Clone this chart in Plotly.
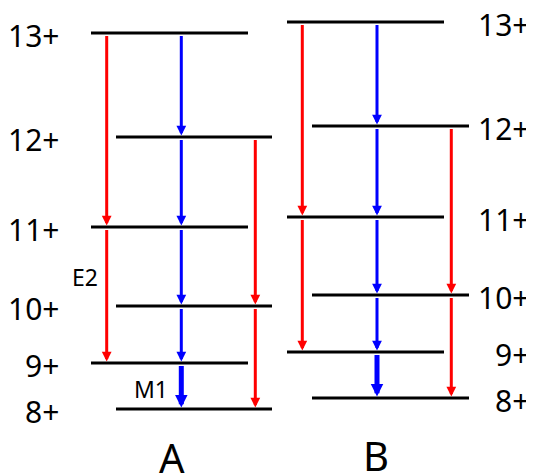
import plotly.graph_objects as go

# ---- data: level energies (arbitrary units) and spins ----
spins = ["8+", "9+", "10+", "11+", "12+", "13+"]
levels_A = [66, 112, 169, 248, 338, 442]
levels_B = [77, 123, 180, 258, 349, 453]

# transitions: (from index, to index)
e2_left = [(5, 3), (3, 1)]
m1_mid = [(5, 4), (4, 3), (3, 2), (2, 1), (1, 0)]
e2_right = [(4, 2), (2, 0)]

# ---- layout constants (positions / styles) ----
W, H = 534, 475
PAGE_MARGIN = 8  # default body margin of the html page
FONT = "Noto Sans"
panels = {
    "A": dict(levels=levels_A, odd=(91, 248), even=(116, 272),
              xl=106.7, xm=181.3, xr=255.3, lab_x=61, title_x=171.5, title_y=17.5),
    "B": dict(levels=levels_B, odd=(287, 444), even=(312, 469),
              xl=302.3, xm=377, xr=451.3, lab_x=531, title_x=376, title_y=19.5),
}

fig = go.Figure()
shapes = []
annotations = []

def arrow(x, y_from, y_to, color, width=3, size=0.65):
    annotations.append(dict(
        x=x, y=y_to, ax=x, ay=y_from, xref="x", yref="y", axref="x", ayref="y",
        text="", showarrow=True, arrowhead=2, arrowsize=size, arrowwidth=width,
        arrowcolor=color, standoff=1.5, startstandoff=1.5))

for name, p in panels.items():
    lv = p["levels"]
    for i, (s, e) in enumerate(zip(spins, lv)):
        x0, x1 = p["even"] if i % 2 == 0 else p["odd"]
        shapes.append(dict(type="line", xref="x", yref="y", x0=x0, x1=x1, y0=e, y1=e,
                           line=dict(color="black", width=3)))
        annotations.append(dict(x=p["lab_x"], y=e - 2, xref="x", yref="y", text=s,
                                showarrow=False, xanchor="right", yanchor="middle",
                                font=dict(family=FONT, size=30, color="black")))
    for a, b in e2_left:
        arrow(p["xl"], lv[a], lv[b], "#ff0000")
    for a, b in e2_right:
        arrow(p["xr"], lv[a], lv[b], "#ff0000")
    for k, (a, b) in enumerate(m1_mid):
        if k == len(m1_mid) - 1:
            arrow(p["xm"], lv[a], lv[b], "#0000ff", width=5, size=0.5)
        else:
            arrow(p["xm"], lv[a], lv[b], "#0000ff")
    annotations.append(dict(x=p["title_x"], y=p["title_y"], xref="x", yref="y", text=name,
                            showarrow=False, xanchor="center", yanchor="middle",
                            font=dict(family=FONT, size=40, color="black")))

annotations.append(dict(x=85, y=198.5, xref="x", yref="y", text="E2", showarrow=False,
                        xanchor="center", yanchor="middle",
                        font=dict(family=FONT, size=23, color="black")))
annotations.append(dict(x=151, y=86.5, xref="x", yref="y", text="M1", showarrow=False,
                        xanchor="center", yanchor="middle",
                        font=dict(family=FONT, size=23, color="black")))

fig.update_layout(
    width=W - PAGE_MARGIN, height=H - PAGE_MARGIN, margin=dict(l=0, r=0, t=0, b=0),
    paper_bgcolor="white", plot_bgcolor="white",
    xaxis=dict(range=[PAGE_MARGIN, W], visible=False, fixedrange=True),
    yaxis=dict(range=[0, H - PAGE_MARGIN], visible=False, fixedrange=True),
    shapes=shapes, annotations=annotations, showlegend=False,
)
fig.write_html("out.html", config={"displayModeBar": False})
